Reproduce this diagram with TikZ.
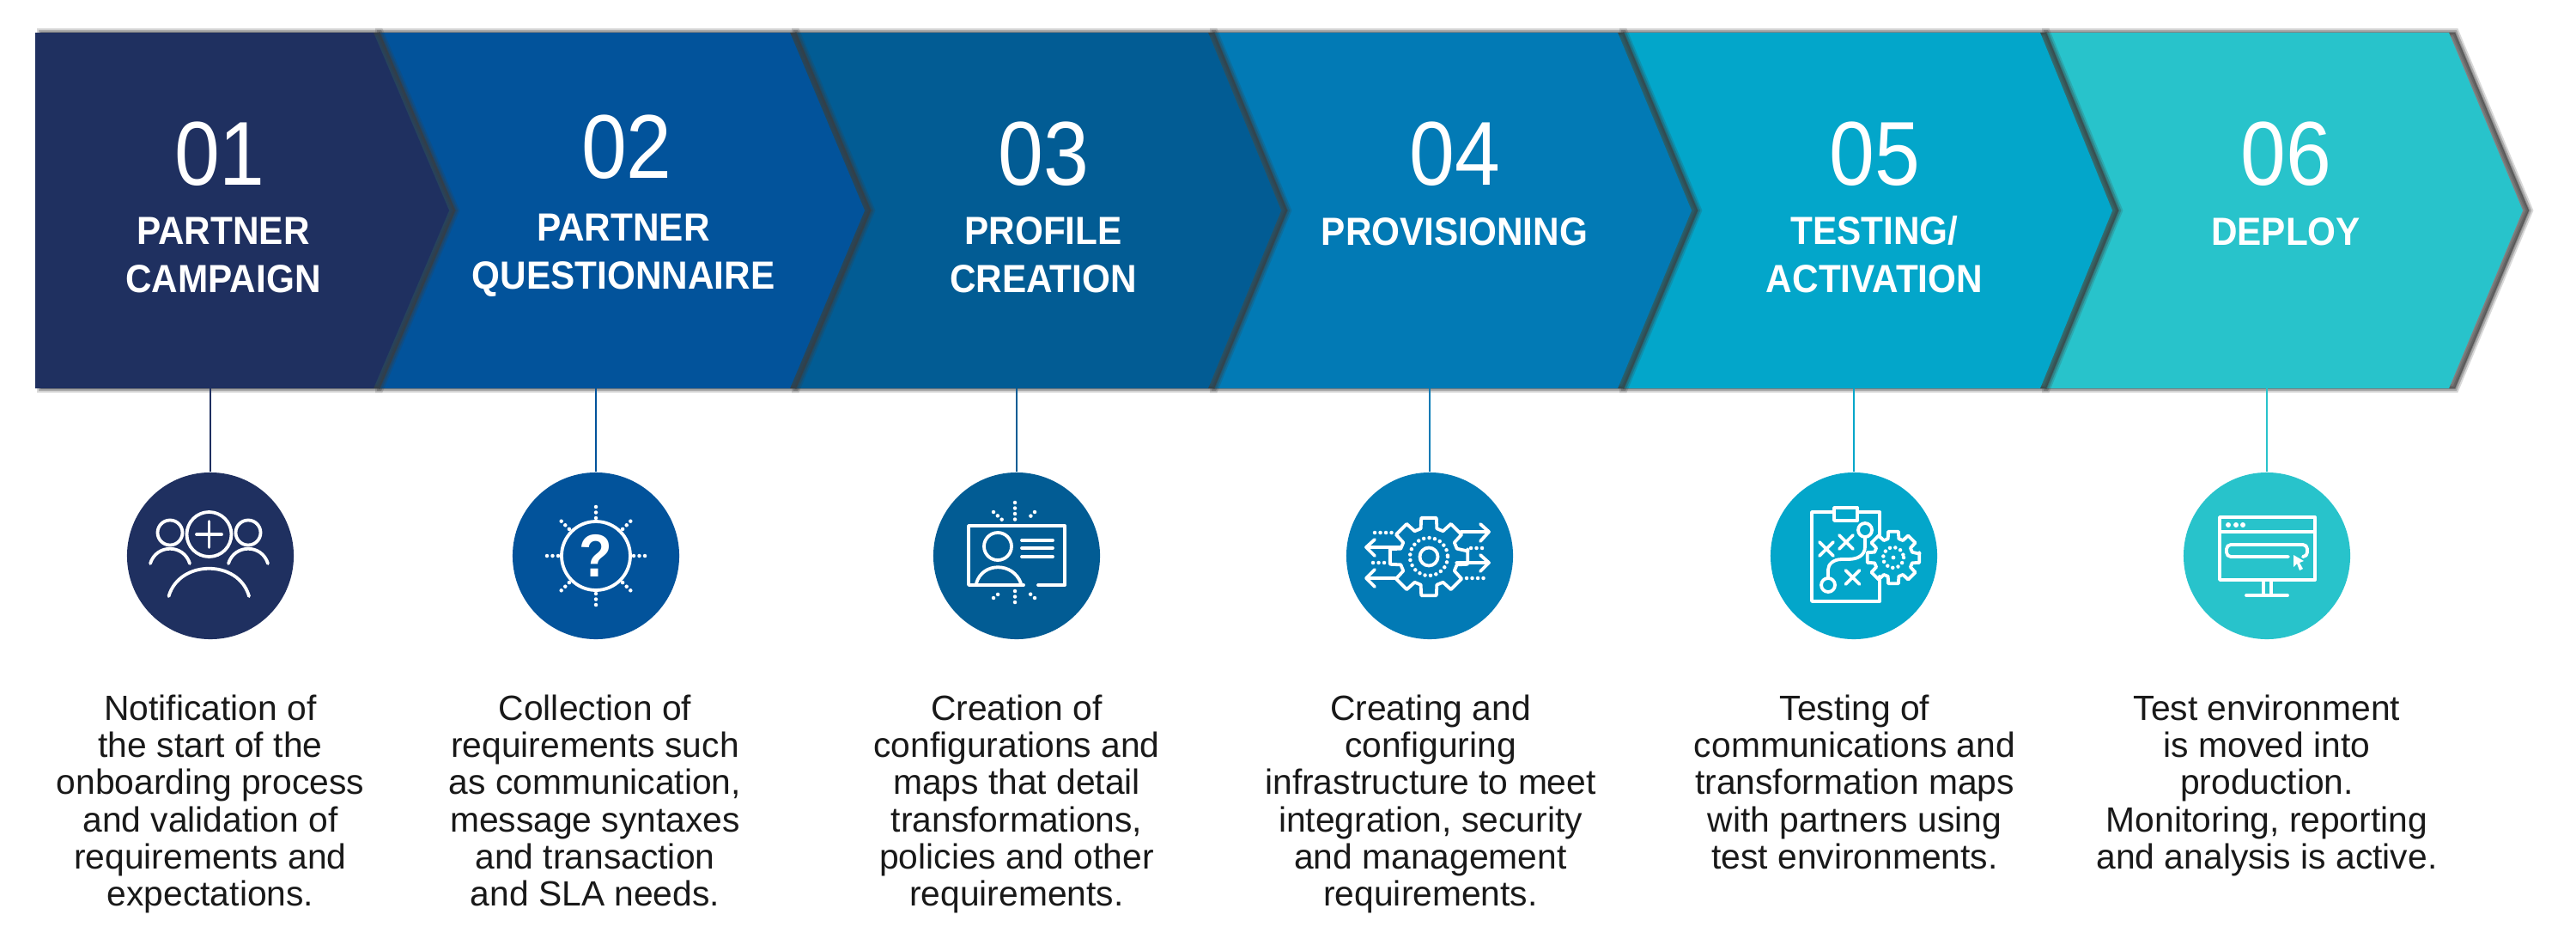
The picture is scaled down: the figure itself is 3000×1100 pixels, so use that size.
\documentclass[tikz,border=0pt]{standalone}
\usepackage{fontspec}
\setmainfont{Liberation Sans}
\newfontfamily\numfont[FakeStretch=0.9]{Liberation Sans}
\newfontfamily\headfont[FakeStretch=0.925]{Liberation Sans}
\usepackage{tikz}
\usetikzlibrary{positioning, calc}
\usepackage{xcolor}
\definecolor{stepa}{RGB}{31,48,96}
\definecolor{stepb}{RGB}{2,83,155}
\definecolor{stepc}{RGB}{2,92,148}
\definecolor{stepd}{RGB}{2,122,181}
\definecolor{stepe}{RGB}{3,166,202}
\definecolor{stepf}{RGB}{40,195,203}
\definecolor{shade}{RGB}{60,60,60}
\tikzset{
  halo/.style={fill=shade, draw=shade, opacity=#1, transform canvas={xshift=0.07cm}},
  chevron/.style={fill=#1,
    preaction={halo=.2, line width=0.10cm},
    preaction={halo=.3, line width=0.06cm},
    preaction={halo=.35, line width=0.02cm}},
  numlabel/.style={text=white, anchor=base, inner sep=0, font=\numfont\fontsize{30}{30}\selectfont},
  headlabel/.style={text=white, anchor=base, inner sep=0, align=center, font=\headfont\bfseries\fontsize{13}{15.7}\selectfont},
  bodytext/.style={anchor=north, inner sep=0, align=center, text=black!90, font=\fontsize{11.6}{12.3}\selectfont},
  disc/.style={circle, fill=#1, minimum size=1.94cm, inner sep=0},
  link/.style={draw=#1, line width=0.02cm},
  icon/.style={draw=white, line width=0.038cm, line cap=round, line join=round},
  dotline/.style={draw=white, line width=0.045cm, line cap=round, dash pattern=on 0pt off 0.065cm},
  gear/.pic={
    \draw[icon] (-8:46) \foreach \a in {0,45,...,315} {-- (\a-11:46) -- (\a+11:46) -- (\a+16:34) -- (\a+29:34)} -- cycle;
  }
}
\begin{document}
\begin{tikzpicture}[x=0.01cm, y=-0.01cm]
  \useasboundingbox (0,0) rectangle (3000,1100);

  \path[chevron=stepf] (2376,38) -- (2852,38) -- (2938,245) -- (2852,452) -- (2376,452) -- cycle;
  \path[chevron=stepe] (1884,38) -- (2376,38) -- (2460,245) -- (2376,452) -- (1884,452) -- cycle;
  \path[chevron=stepd] (1407,38) -- (1884,38) -- (1970,245) -- (1884,452) -- (1407,452) -- cycle;
  \path[chevron=stepc] (920,38) -- (1407,38) -- (1492,245) -- (1407,452) -- (920,452) -- cycle;
  \path[chevron=stepb] (435,38) -- (920,38) -- (1007,245) -- (920,452) -- (435,452) -- cycle;
  \path[chevron=stepa] (41,38) -- (435,38) -- (523,245) -- (435,452) -- (41,452) -- cycle;

  \node[numlabel] (num1) at (256,215) {01};
  \node[numlabel] (num2) at (730,207) {02};
  \node[numlabel] (num3) at (1215,215) {03};
  \node[numlabel] (num4) at (1694,215) {04};
  \node[numlabel] (num5) at (2183,215) {05};
  \node[numlabel] (num6) at (2662,215) {06};

  \node[headlabel] (head1) at (260,340) {PARTNER\\CAMPAIGN};
  \node[headlabel] (head2) at (726,336) {PARTNER\\QUESTIONNAIRE};
  \node[headlabel] (head3) at (1215,340) {PROFILE\\CREATION};
  \node[headlabel] (head4) at (1694,285) {PROVISIONING};
  \node[headlabel] (head5) at (2183,340) {TESTING/\\ACTIVATION};
  \node[headlabel] (head6) at (2662,285) {DEPLOY};

  \coordinate (foot1) at (245,452);
  \coordinate (foot2) at (694,452);
  \coordinate (foot3) at (1184,452);
  \coordinate (foot4) at (1665,452);
  \coordinate (foot5) at (2159,452);
  \coordinate (foot6) at (2640,452);

  \node[disc=stepa] (disc1) at (245,647) {};
  \node[disc=stepb] (disc2) at (694,647) {};
  \node[disc=stepc] (disc3) at (1184,647) {};
  \node[disc=stepd] (disc4) at (1665,647) {};
  \node[disc=stepe] (disc5) at (2159,647) {};
  \node[disc=stepf] (disc6) at (2640,647) {};

  \draw[link=stepa] (foot1) -- (disc1);
  \draw[link=stepb] (foot2) -- (disc2);
  \draw[link=stepc] (foot3) -- (disc3);
  \draw[link=stepd] (foot4) -- (disc4);
  \draw[link=stepe] (foot5) -- (disc5);
  \draw[link=stepf] (foot6) -- (disc6);

  \begin{scope}[shift={(disc1.center)}]
    \draw[icon] (-1.5,-25) circle[radius=26];
    \draw[icon] (-16,-25) -- (13,-25) (-1.5,-40) -- (-1.5,-10);
    \draw[icon] (-47,-27) circle[radius=14.5] (44,-27) circle[radius=14.5];
    \draw[icon] (-70,9) .. controls (-63,-14) and (-31,-14) .. (-24,9);
    \draw[icon] (21,9) .. controls (28,-14) and (60,-14) .. (67,9);
    \draw[icon] (-48.5,47) .. controls (-36,4) and (33,4) .. (45,47);
  \end{scope}

  \begin{scope}[shift={(disc2.center)}]
    \draw[icon] (0,0) circle[radius=40];
    \node[text=white, inner sep=0, font=\numfont\bfseries\fontsize{20}{20}\selectfont] (qmark2) at (0,0) {?};
    \foreach \a in {0,45,...,315} \draw[dotline] (\a:44) -- (\a:57.5);
  \end{scope}

  \begin{scope}[shift={(disc3.center)}]
    \draw[icon] (8,34) -- (-56,34) -- (-56,-35) -- (56,-35) -- (56,34) -- (25,34);
    \draw[icon] (-22,-11) circle[radius=16];
    \draw[icon] (-47,32) .. controls (-40,7) and (-4,7) .. (5,32);
    \draw[icon] (6,-18) -- (42,-18) (6,-9) -- (42,-9) (6,1) -- (42,1);
    \draw[dotline] (-2,-62) -- (-2,-42);
    \draw[dotline] (-27,-51) -- (-17,-42);
    \draw[dotline] (21,-51) -- (12,-42);
    \draw[dotline] (-2,41) -- (-2,60);
    \draw[dotline] (-27,49) -- (-17,41);
    \draw[dotline] (21,49) -- (12,41);
  \end{scope}

  \begin{scope}[shift={(disc4.center)}]
    \pic at (-1,1) {gear};
    \draw[icon] (-1,1) circle[radius=10.5];
    \draw[dotline] (-1,1) circle[radius=22];
    \draw[icon] (36,-28) -- (69,-28) (59,-37) -- (69,-28) -- (59,-17);
    \draw[icon] (31,8) -- (69,8) (59,-1) -- (69,8) -- (59,18);
    \draw[icon] (-34,-10) -- (-74,-10) (-64,-19) -- (-74,-10) -- (-64,0);
    \draw[icon] (-39,26) -- (-74,26) (-64,16) -- (-74,26) -- (-64,36);
    \draw[dotline] (-64,-27) -- (-43,-27);
    \draw[dotline] (-66,8) -- (-51,8);
    \draw[dotline] (48,-9) -- (64,-9);
    \draw[dotline] (43,26) -- (64,26);
  \end{scope}

  \begin{scope}[shift={(disc5.center)}]
    \draw[icon] (-23,-51) -- (-49,-51) -- (-49,53) -- (30,53) -- (30,24);
    \draw[icon] (4,-51) -- (30,-51) -- (30,-22);
    \draw[icon] (-23,-56) rectangle (4,-41);
    \pic[scale=.67] at (46,2) {gear};
    \draw[dotline] (46,2) circle[radius=12];
    \fill[white] (46,2) circle[radius=2.4];
    \draw[icon] (13,-30) circle[radius=8] (-30,34) circle[radius=8];
    \draw[icon] (13,-22) -- (13,-11) .. controls (13,0) and (4,4) .. (-7,4) -- (-14,4) .. controls (-24,4) and (-30,10) .. (-30,16) -- (-30,26);
    \draw[icon] (-40,-16) -- (-24,0) (-24,-16) -- (-40,0);
    \draw[icon] (-17,-24) -- (-1,-8) (-1,-24) -- (-17,-8);
    \draw[icon] (-9.5,17) -- (6.5,33) (6.5,17) -- (-9.5,33);
  \end{scope}

  \begin{scope}[shift={(disc6.center)}]
    \draw[icon] (-55,-45) rectangle (56,28);
    \draw[icon] (-55,-28) -- (56,-28);
    \fill[white] (-45,-36) circle[radius=3] (-36,-36) circle[radius=3] (-28,-36) circle[radius=3];
    \draw[icon, rounded corners=0.05cm] (25,1) -- (-47,1) -- (-47,-13) -- (47,-13) -- (47,1) -- (43,1);
    \fill[white] (31,-1) -- (31,13) -- (35,9) -- (38,17) -- (42,15) -- (38,8) -- (43,6) -- cycle;
    \draw[icon] (-4,28) -- (-4,46) (5,28) -- (5,46);
    \draw[icon] (-24,46) -- (24,46);
  \end{scope}

  \node[bodytext] (text1) at (245,808) {Notification of\\the start of the\\onboarding process\\and validation of\\requirements and\\expectations.};
  \node[bodytext] (text2) at (693,808) {Collection of\\requirements such\\as communication,\\message syntaxes\\and transaction\\and SLA needs.};
  \node[bodytext] (text3) at (1184,808) {Creation of\\configurations and\\maps that detail\\transformations,\\policies and other\\requirements.};
  \node[bodytext] (text4) at (1666,808) {Creating and\\configuring\\infrastructure to meet\\integration, security\\and management\\requirements.};
  \node[bodytext] (text5) at (2160,808) {Testing of\\communications and\\transformation maps\\with partners using\\test environments.};
  \node[bodytext] (text6) at (2640,808) {Test environment\\is moved into\\production.\\Monitoring, reporting\\and analysis is active.};
\end{tikzpicture}
\end{document}
